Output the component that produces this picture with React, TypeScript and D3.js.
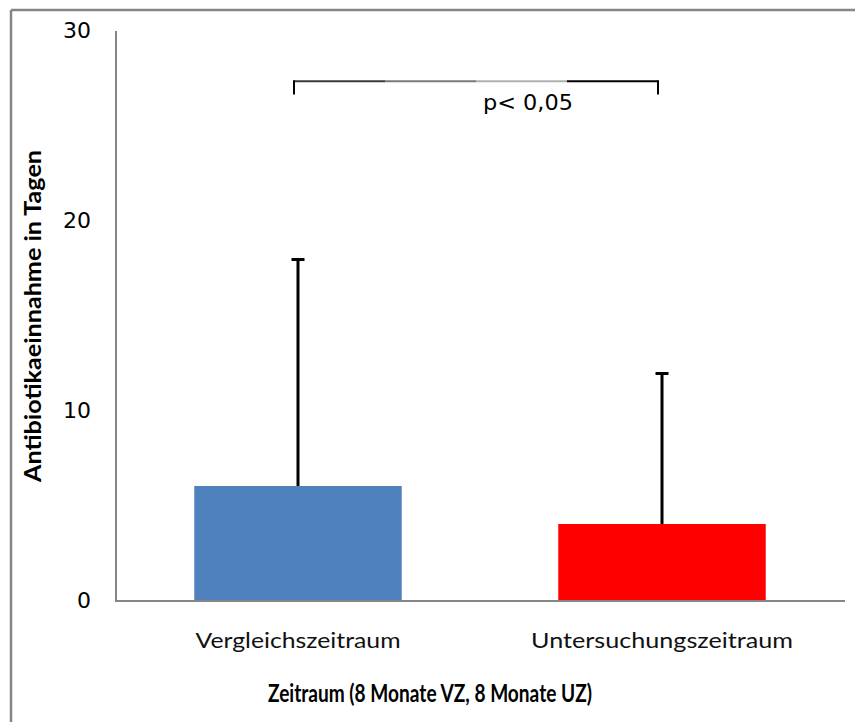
import React from "react";
import * as d3 from "d3";

const categories = ["Vergleichszeitraum", "Untersuchungszeitraum"];
const categoryLabelWidths = [205, 262];
const means = [6, 4];
const sds = [12, 8];
const barColors = ["#4F81BD", "#FF0000"];
const yTicks = [0, 10, 20, 30];
const yTitle = "Antibiotikaeinnahme in Tagen";
const xTitle = "Zeitraum (8 Monate VZ, 8 Monate UZ)";
const sigLabel = "p< 0,05";
const bracketTop = 27.3;
const bracketLeg = 26.6;

export default function App() {
  const W = 855, H = 722;
  const y = d3.scaleLinear().domain([0, 30]).range([600, 30]);
  const x = d3.scaleBand<string>().domain(categories).range([116, 844]).paddingInner(0.43).paddingOuter(0.215);
  const bw = x.bandwidth();
  const cx = (c: string) => (x(c) as number) + bw / 2;
  const axisColor = "#868686";
  const bx1 = cx(categories[0]) - 4;
  const bx2 = cx(categories[1]) - 4;
  const segs = ["#3a3a3a", "#7a7a7a", "#b0b0b0", "#000000"];
  const segW = (bx2 - bx1) / 4;
  return (
    <div style={{ position: "absolute", left: 0, top: 0 }}>
      <svg width={W} height={H} style={{ display: "block", background: "#fff" }}>
        <rect x={0} y={0} width={W} height={H} fill="#fff" />
        {/* frame */}
        <line x1={11} y1={10} x2={W} y2={10} stroke={axisColor} strokeWidth={2.5} />
        <line x1={11} y1={10} x2={11} y2={H} stroke={axisColor} strokeWidth={2.5} />
        {/* axes */}
        <line x1={116} y1={y(30) + 1} x2={116} y2={y(0) + 1} stroke={axisColor} strokeWidth={2} />
        <line x1={115} y1={y(0) + 1} x2={845} y2={y(0) + 1} stroke={axisColor} strokeWidth={2} />
        {yTicks.map((t) => (
          <text key={t} x={91} y={y(t)} dy="0.36em" textAnchor="end" fontFamily="DejaVu Sans" fontSize={22} fill="#000">
            {t}
          </text>
        ))}
        {/* bars */}
        {categories.map((c, i) => (
          <g key={c}>
            <rect x={x(c)} y={y(means[i])} width={bw} height={y(0) - y(means[i])} fill={barColors[i]} />
            <line x1={cx(c)} x2={cx(c)} y1={y(means[i])} y2={y(means[i] + sds[i])} stroke="#000" strokeWidth={3} />
            <line x1={cx(c) - 6.5} x2={cx(c) + 6.5} y1={y(means[i] + sds[i]) + 1.5} y2={y(means[i] + sds[i]) + 1.5} stroke="#000" strokeWidth={3} />
            <text x={cx(c)} y={648} textAnchor="middle" fontFamily="Lato" fontSize={22} fill="#111"
              textLength={categoryLabelWidths[i]} lengthAdjust="spacingAndGlyphs">
              {c}
            </text>
          </g>
        ))}
        {/* significance bracket */}
        {segs.map((col, i) => (
          <line key={i} x1={bx1 + i * segW} x2={bx1 + (i + 1) * segW} y1={y(bracketTop)} y2={y(bracketTop)} stroke={col} strokeWidth={2} />
        ))}
        <line x1={bx1} x2={bx1} y1={y(bracketTop) - 1} y2={y(bracketLeg)} stroke="#000" strokeWidth={2} />
        <line x1={bx2} x2={bx2} y1={y(bracketTop) - 1} y2={y(bracketLeg)} stroke="#000" strokeWidth={2} />
        <text x={483} y={110} fontFamily="DejaVu Sans" fontSize={22} fill="#000" textLength={90} lengthAdjust="spacingAndGlyphs">
          {sigLabel}
        </text>
        {/* titles */}
        <text x={430} y={702} textAnchor="middle" fontFamily="Lato" fontWeight="bold" fontSize={24} fill="#000"
          textLength={324} lengthAdjust="spacingAndGlyphs">
          {xTitle}
        </text>
        <text transform="translate(41,316) rotate(-90)" textAnchor="middle" fontFamily="Lato" fontWeight="bold" fontSize={22} fill="#000"
          textLength={332} lengthAdjust="spacingAndGlyphs">
          {yTitle}
        </text>
      </svg>
    </div>
  );
}
